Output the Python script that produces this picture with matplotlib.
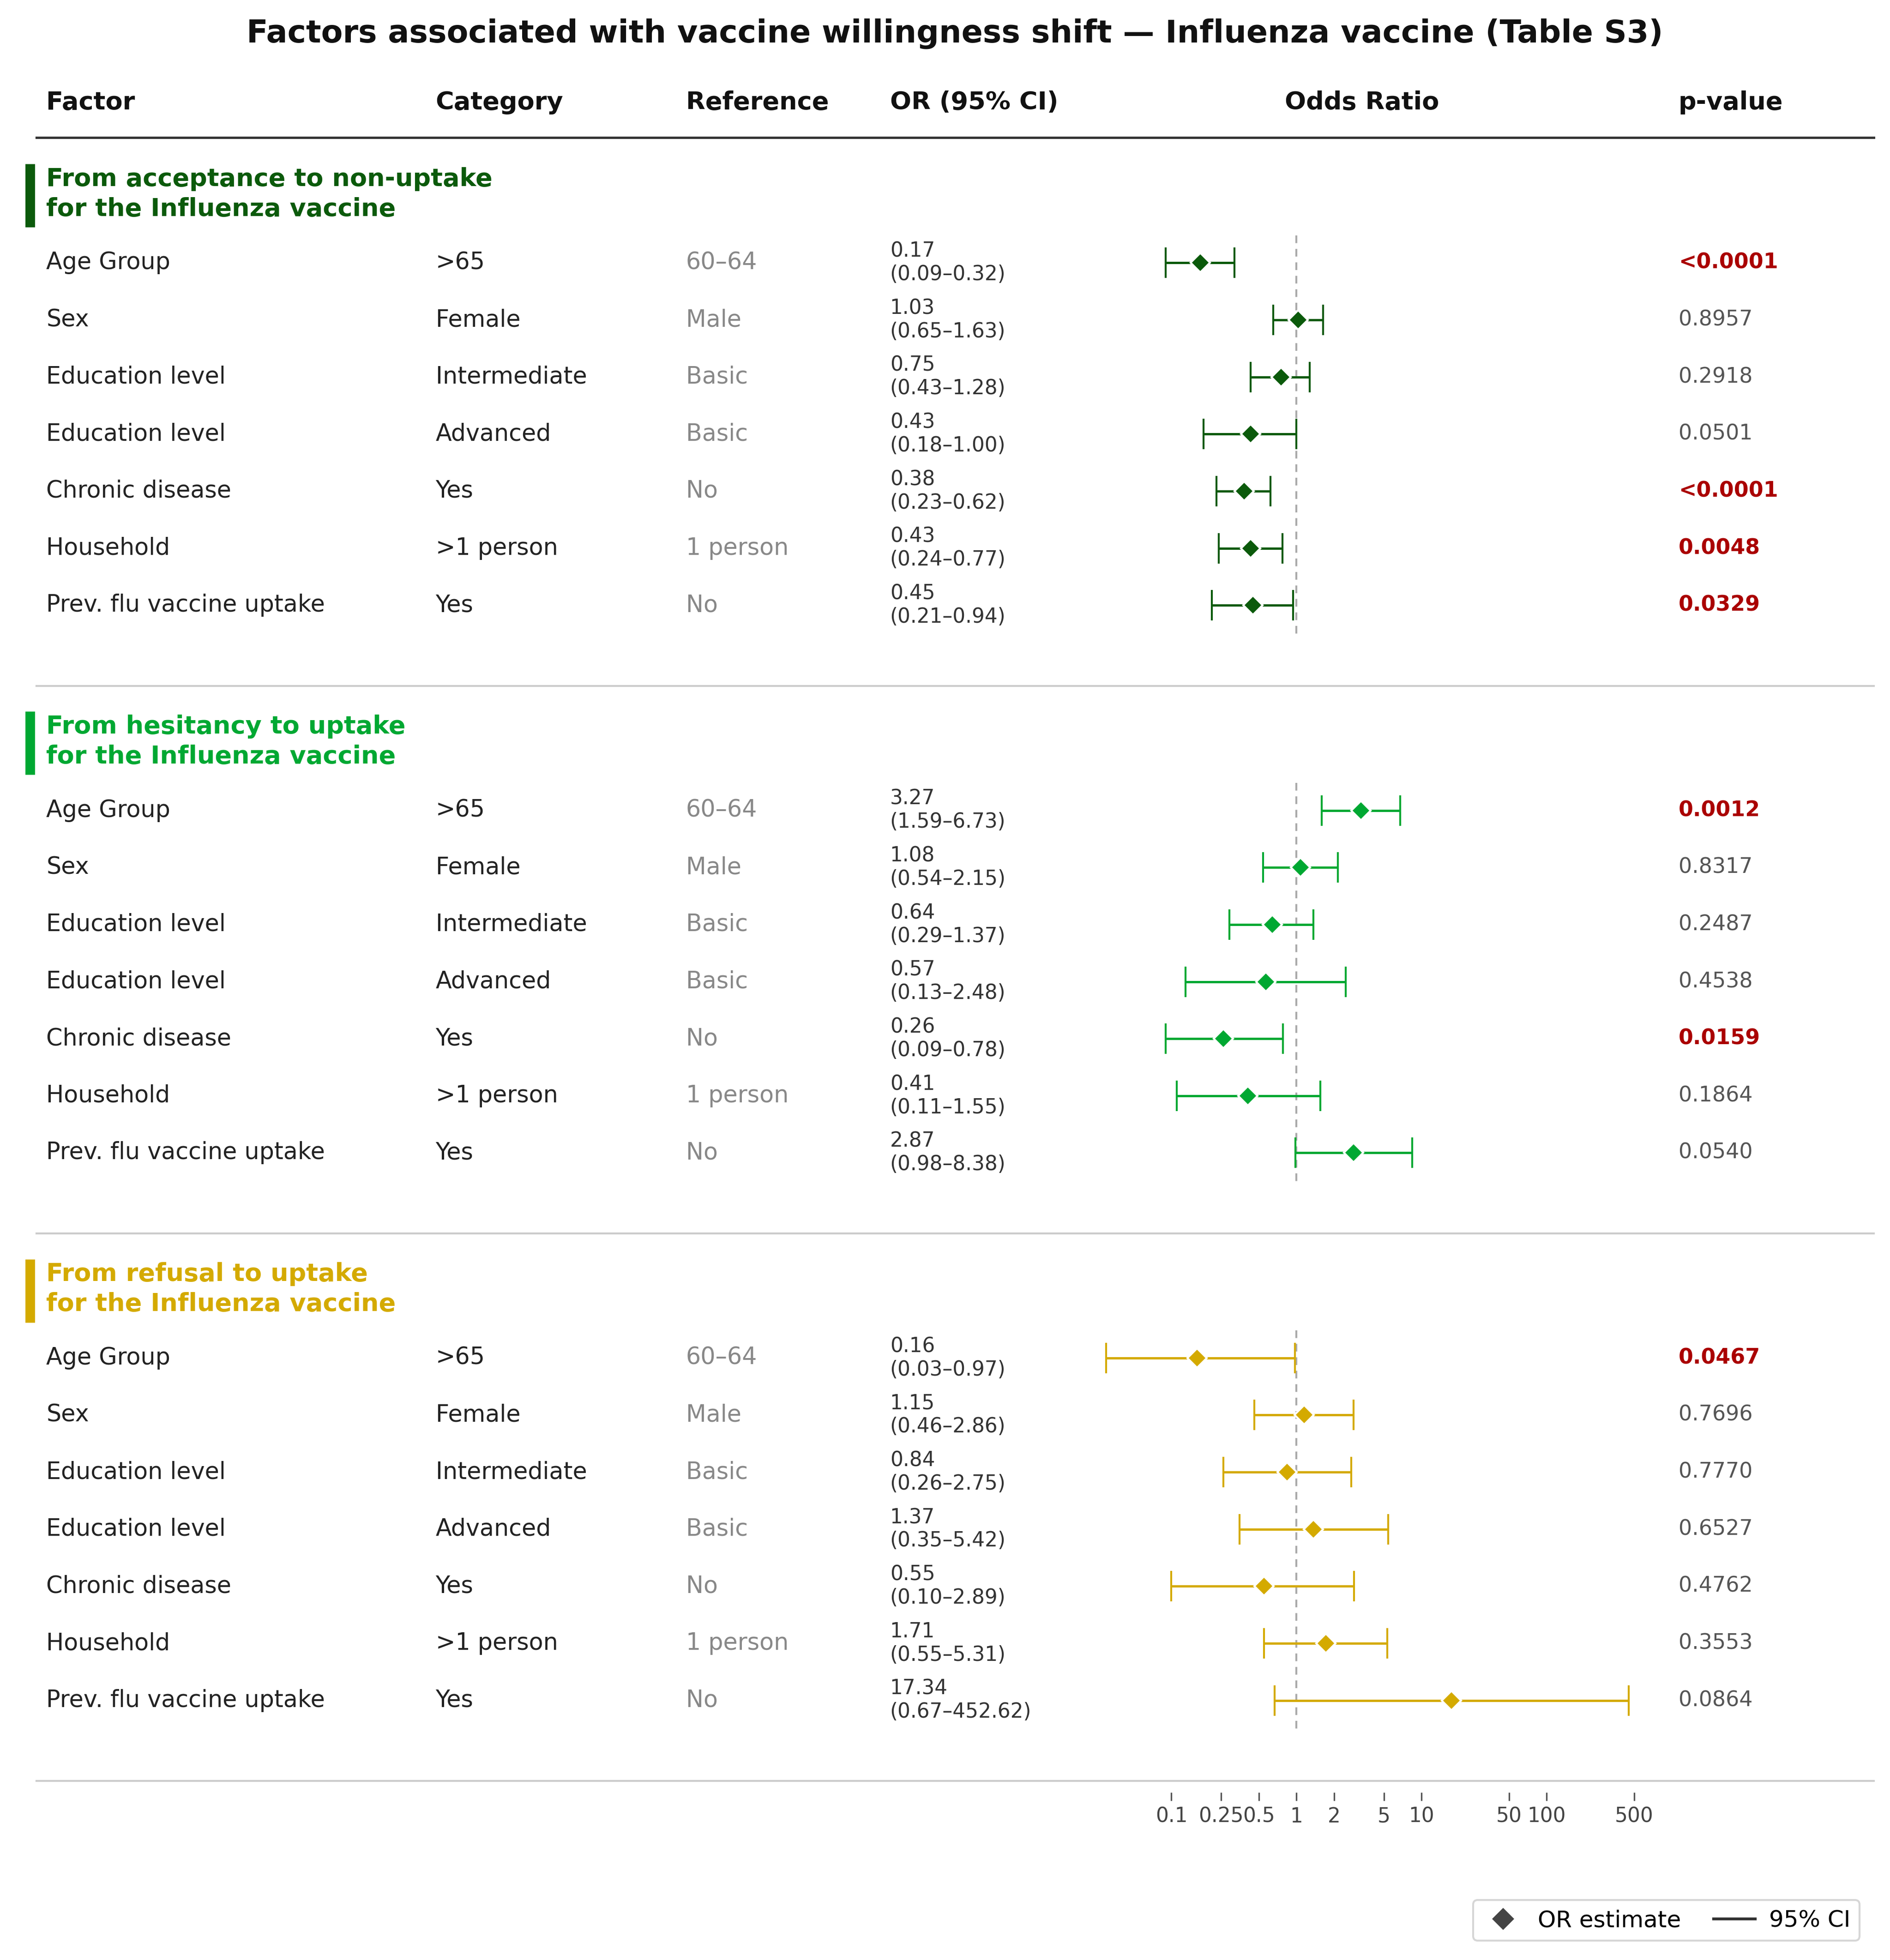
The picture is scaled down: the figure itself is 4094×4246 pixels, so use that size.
import matplotlib.pyplot as plt
from matplotlib.lines import Line2D

factors = ["Age Group", "Sex", "Education level", "Education level",
           "Chronic disease", "Household", "Prev. flu vaccine uptake"]
categories = [">65", "Female", "Intermediate", "Advanced", "Yes", ">1 person", "Yes"]
references = ["60–64", "Male", "Basic", "Basic", "No", "1 person", "No"]

section_titles = ["From acceptance to non-uptake\nfor the Influenza vaccine",
                  "From hesitancy to uptake\nfor the Influenza vaccine",
                  "From refusal to uptake\nfor the Influenza vaccine"]
section_colors = ["#0b5a0b", "#00a832", "#d4aa00"]

or_accept = [0.17, 1.03, 0.75, 0.43, 0.38, 0.43, 0.45]
lo_accept = [0.09, 0.65, 0.43, 0.18, 0.23, 0.24, 0.21]
hi_accept = [0.32, 1.63, 1.28, 1.00, 0.62, 0.77, 0.94]
p_accept = ["<0.0001", "0.8957", "0.2918", "0.0501", "<0.0001", "0.0048", "0.0329"]

or_hes = [3.27, 1.08, 0.64, 0.57, 0.26, 0.41, 2.87]
lo_hes = [1.59, 0.54, 0.29, 0.13, 0.09, 0.11, 0.98]
hi_hes = [6.73, 2.15, 1.37, 2.48, 0.78, 1.55, 8.38]
p_hes = ["0.0012", "0.8317", "0.2487", "0.4538", "0.0159", "0.1864", "0.0540"]

or_ref = [0.16, 1.15, 0.84, 1.37, 0.55, 1.71, 17.34]
lo_ref = [0.03, 0.46, 0.26, 0.35, 0.10, 0.55, 0.67]
hi_ref = [0.97, 2.86, 2.75, 5.42, 2.89, 5.31, 452.62]
p_ref = ["0.0467", "0.7696", "0.7770", "0.6527", "0.4762", "0.3553", "0.0864"]

ticks = [0.1, 0.25, 0.5, 1, 2, 5, 10, 50, 100, 500]
tick_labels = ["0.1", "0.25", "0.5", "1", "2", "5", "10", "50", "100", "500"]

sections = [(or_accept, lo_accept, hi_accept, p_accept),
            (or_hes, lo_hes, hi_hes, p_hes),
            (or_ref, lo_ref, hi_ref, p_ref)]

# layout units: a 1510 x 1566 grid over the figure
W, H = 1510, 1566
fig = plt.figure(figsize=(4094 / 300, 4246 / 300), dpi=300)
ax = fig.add_axes([0, 0, 1, 1])
ax.set_xlim(0, W)
ax.set_ylim(H, 0)
ax.axis("off")

xmin, xmax = 0.02, 650
f_left, f_right = 866 / W, 1317 / W
axf = fig.add_axes([f_left, 0, f_right - f_left, 1])
axf.set_xscale("log")
axf.set_xlim(xmin, xmax)
axf.set_ylim(H, 0)
axf.axis("off")

ax.text(W / 2 + 8, 27, "Factors associated with vaccine willingness shift — Influenza vaccine (Table S3)",
        ha="center", va="center", fontsize=16.4, fontweight="bold", color="#111111")

col_x = {"factor": 37, "cat": 348, "ref": 548, "or": 711, "p": 1341}
hy = 82
for key, lab in [("factor", "Factor"), ("cat", "Category"), ("ref", "Reference"),
                 ("or", "OR (95% CI)"), ("p", "p-value")]:
    ax.text(col_x[key], hy, lab, ha="left", va="center", fontsize=13,
            fontweight="bold", color="#111111")
ax.text(1088, hy, "Odds Ratio", ha="center", va="center", fontsize=13,
        fontweight="bold", color="#111111")
ax.plot([29, 1497], [110, 110], color="#333333", lw=1.2)

sec_gap = 437.5
row_step = 45.6
for s, (ors, los, his, ps) in enumerate(sections):
    top = 143 + s * sec_gap
    color = section_colors[s]
    ax.plot([24, 24], [top - 12, top + 38.5], color=color, lw=5, solid_capstyle="butt")
    ax.text(37, top + 12, section_titles[s], ha="left", va="center", fontsize=13,
            fontweight="bold", color=color, linespacing=1.32)
    ys = [top + 67 + j * row_step for j in range(len(ors))]
    for j, y in enumerate(ys):
        ax.text(col_x["factor"], y, factors[j], ha="left", va="center", fontsize=12.2, color="#222222")
        ax.text(col_x["cat"], y, categories[j], ha="left", va="center", fontsize=12.2, color="#222222")
        ax.text(col_x["ref"], y, references[j], ha="left", va="center", fontsize=12.2, color="#888888")
        ax.text(col_x["or"], y, f"{ors[j]:.2f}\n({los[j]:.2f}–{his[j]:.2f})", ha="left",
                va="center", fontsize=10.5, color="#333333", linespacing=1.22)
        sig = ps[j].startswith("<") or float(ps[j]) < 0.05
        ax.text(col_x["p"], y, ps[j], ha="left", va="center", fontsize=11,
                color="#aa0000" if sig else "#555555",
                fontweight="bold" if sig else "normal")
    axf.plot([1, 1], [ys[0] - 22, ys[-1] + 23], color="#aaaaaa", lw=1, ls=(0, (4, 3)), zorder=1)
    err = [[o - l for o, l in zip(ors, los)], [h - o for o, h in zip(ors, his)]]
    axf.errorbar(ors, ys, xerr=err, fmt="D", color=color, ecolor=color, elinewidth=1.2,
                 capsize=8, capthick=1.2, markersize=7, markeredgecolor="white",
                 markeredgewidth=1.0, zorder=3)
    ax.plot([29, 1497], [top + 405, top + 405], color="#cccccc", lw=1)

# tick axis under the table
tick_top = 1432
axt = fig.add_axes([f_left, 1 - tick_top / H, f_right - f_left, 1e-4])
axt.set_xscale("log")
axt.set_xlim(xmin, xmax)
axt.set_xticks(ticks)
axt.set_xticklabels(tick_labels)
axt.xaxis.set_minor_locator(plt.NullLocator())
axt.set_yticks([])
for sp in axt.spines.values():
    sp.set_visible(False)
axt.tick_params(axis="x", direction="out", length=4.4, width=0.8, color="#555555",
                labelsize=10.5, labelcolor="#444444", pad=3)
axt.patch.set_visible(False)

handles = [Line2D([], [], marker="D", ls="none", color="#444444", markersize=7),
           Line2D([], [], color="#333333", lw=1.5)]
fig.legend(handles, ["OR estimate", "95% CI"], loc="lower right", ncol=2,
           bbox_to_anchor=(0.990, 0.004), fontsize=12, frameon=True,
           edgecolor="#cccccc", fancybox=True, columnspacing=1.4,
           handlelength=1.8, handletextpad=0.6)

fig.savefig("out.png", dpi=300)
